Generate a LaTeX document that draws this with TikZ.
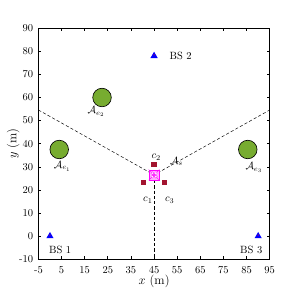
\documentclass[tikz,border=0pt]{standalone}
\usetikzlibrary{positioning, shapes.geometric}
\definecolor{cgreen}{HTML}{77AC30}
\definecolor{cred}{HTML}{A2142F}
\definecolor{cmag}{HTML}{FF00FF}
\definecolor{cpink}{HTML}{FFB0FF}
\tikzset{
  cluster/.style={circle, draw=black, fill=cgreen, line width=0.6pt, minimum size=0.62cm, inner sep=0pt},
  user/.style={fill=cred, minimum size=0.18cm, inner sep=0pt},
  uav/.style={draw=cmag, fill=cpink, line width=0.6pt, minimum size=0.34cm, inner sep=0pt},
  bs/.style={regular polygon, regular polygon sides=3, fill=blue, minimum size=0.28cm, inner sep=0pt,
    path picture={\fill[red] (path picture bounding box.center) circle (0.6pt);}},
  boundary/.style={dash pattern=on 3pt off 2pt, line width=0.45pt},
  axtick/.style={line width=0.6pt},
}

\begin{document}
\begin{tikzpicture}[x=0.0774cm, y=0.0773cm]
  \useasboundingbox (-21.6,-27.2) rectangle (107.5,102.2);
  % sector boundaries
  \coordinate (ctr) at (45,26.5);
  \coordinate (wl) at (-5,54.6);
  \coordinate (wr) at (95,54.6);
  \coordinate (wb) at (45,-10);
  \draw[boundary] (wl) -- (ctr) -- (wr);
  \draw[boundary] (ctr) -- (wb);
  % clusters
  \node[cluster] (e1) at (4,37.5) {};
  \node[cluster] (e2) at (22.5,60) {};
  \node[cluster] (e3) at (85.5,37.5) {};
  \node[below=-1.5pt of e1, xshift=3pt] (le1) {$\mathcal{A}_{e_1}$};
  \node[below=-4pt of e2, xshift=-5.5pt] (le2) {$\mathcal{A}_{e_2}$};
  \node[below=0pt of e3, xshift=6pt] (le3) {$\mathcal{A}_{e_3}$};
  % users and UAV
  \node[uav] (uav) at (ctr) {};
  \draw[cmag, line width=0.4pt] (uav.north west) -- (uav.south east) (uav.north east) -- (uav.south west);
  \foreach \a in {45,135,225,315}
    \draw[cmag, fill=white, line width=0.3pt] ([shift={(\a:0.085cm)}]uav.center) circle (0.05cm);
  \node[user] (c1) at (40.5,23.3) {};
  \node[user] (c2) at (45,31.1) {};
  \node[user] (c3) at (49.5,23.3) {};
  \node[below=8pt of c1, xshift=4pt] (lc1) {$c_1$};
  \node[above=-2.5pt of c2, xshift=2pt] (lc2) {$c_2$};
  \node[below=8pt of c3, xshift=5pt] (lc3) {$c_3$};
  \node (las) at (54.7,32.3) {$\mathcal{A}_s$};
  % base stations
  \node[bs] (bs1) at (0,0) {};
  \node[bs] (bs2) at (45,78) {};
  \node[bs] (bs3) at (90,0) {};
  \node (lbs1) at (4.4,-6) {BS 1};
  \node (lbs2) at (56.5,78) {BS 2};
  \node (lbs3) at (87,-6) {BS 3};
  % axes
  \draw[line width=0.9pt] (-5,-10) rectangle (95,90);
  \foreach \x [count=\i] in {-5,5,...,95} {
    \draw[axtick] (\x,-10) -- ++(0,1.3);
    \draw[axtick] (\x,90) -- ++(0,-1.3);
    \node[below, yshift=-3pt] (tx\i) at (\x,-10) {\x};
  }
  \foreach \y [count=\i] in {-10,0,...,90} {
    \draw[axtick] (-5,\y) -- ++(1.3,0);
    \draw[axtick] (95,\y) -- ++(-1.3,0);
    \node[left, xshift=-1.6pt] (ty\i) at (-5,\y) {\y};
  }
  \node[font=\large] (xlab) at (45,-19.7) {$x$ (m)};
  \node[font=\large, rotate=90] (ylab) at (-15.9,40) {$y$ (m)};
\end{tikzpicture}
\end{document}
